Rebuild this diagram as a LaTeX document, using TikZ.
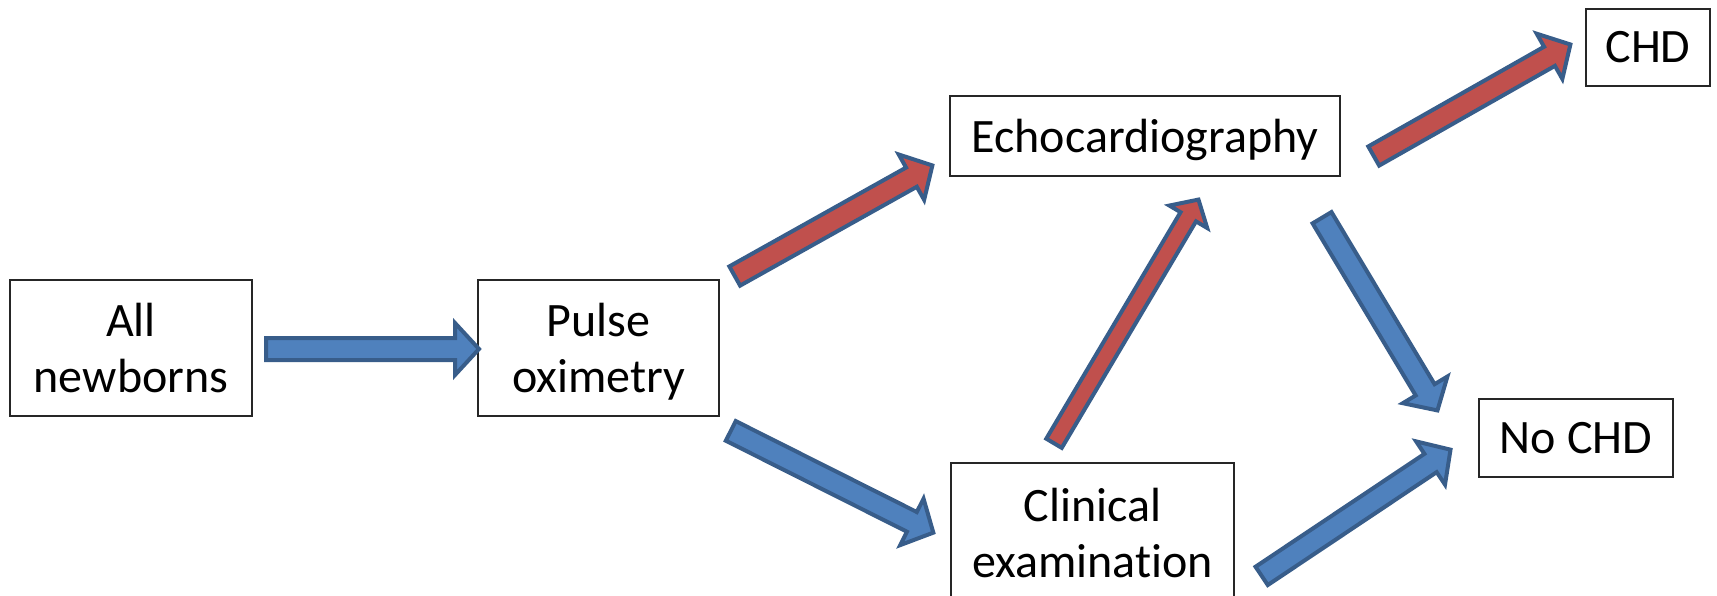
\documentclass[tikz,border=0pt]{standalone}
\usepackage{fontspec}
\setmainfont{Carlito}[Ligatures=NoCommon]
\usetikzlibrary{calc}
\definecolor{arrowred}{HTML}{C0504D}
\definecolor{arrowblue}{HTML}{4F81BD}
\definecolor{arrowedge}{HTML}{385D8A}

% Block arrow: #1 style, #2 tail, #3 tip, #4 shaft half-width,
% #5 head half-width, #6 head length
\newcommand\blockarrow[6]{%
  \coordinate (ba-s) at ($(#2)!2pt!(#3)$);
  \coordinate (ba-e) at ($(#3)!3pt!(#2)$);
  \coordinate (ba-h) at ($(ba-e)!#6!(ba-s)$);
  \draw[#1] ($(ba-s)!#4!90:(ba-e)$) -- ($(ba-h)!#4!90:(ba-e)$)
    -- ($(ba-h)!#5!90:(ba-e)$) -- (ba-e) -- ($(ba-h)!#5!-90:(ba-e)$)
    -- ($(ba-h)!#4!-90:(ba-e)$) -- ($(ba-s)!#4!-90:(ba-e)$) -- cycle;
}

\tikzset{
  box/.style={draw=black!85, line width=1.3pt, inner sep=0pt, align=center,
    font=\fontsize{48}{56}\selectfont},
  redarrow/.style={fill=arrowred, draw=arrowedge, line width=4pt, line join=miter},
  bluearrow/.style={fill=arrowblue, draw=arrowedge, line width=4pt, line join=miter},
}

\begin{document}
\begin{tikzpicture}[x=1pt,y=-1pt]
\useasboundingbox (0,0) rectangle (1717,596);

% boxes
\node[box, minimum width=242pt, minimum height=136pt] (an) at (131,348) {All\\newborns};
\node[box, minimum width=241pt, minimum height=136pt, text depth=0pt] (po) at (598.5,348) {Pulse\\oximetry};
\node[box, minimum width=390pt, minimum height=80pt, text depth=0pt] (echo) at (1145,136) {Echocardiography};
\node[box, minimum width=124pt, minimum height=77pt] (chd) at (1648,47.5) {CHD};
\node[box, minimum width=194pt, minimum height=78pt] (noc) at (1576,438) {No CHD};
\node[box, minimum width=283pt, minimum height=140pt] (clin) at (1092.5,533) {Clinical\\examination};

% arrow end points
\coordinate (an-po-s) at (264,349);   \coordinate (an-po-e) at (482,349);
\coordinate (po-echo-s) at (733,277); \coordinate (po-echo-e) at (935,164);
\coordinate (po-clin-s) at (729,430); \coordinate (po-clin-e) at (936,534);
\coordinate (clin-echo-s) at (1053,445); \coordinate (clin-echo-e) at (1200,197);
\coordinate (echo-chd-s) at (1372,157); \coordinate (echo-chd-e) at (1573,43);
\coordinate (echo-noc-s) at (1321,216); \coordinate (echo-noc-e) at (1439,413);
\coordinate (clin-noc-s) at (1260,577); \coordinate (clin-noc-e) at (1453,448);

% arrows
\blockarrow{bluearrow}{an-po-s}{an-po-e}{11pt}{26pt}{24pt}
\blockarrow{redarrow}{po-echo-s}{po-echo-e}{11pt}{26pt}{24pt}
\blockarrow{bluearrow}{po-clin-s}{po-clin-e}{11pt}{26pt}{24pt}
\blockarrow{redarrow}{clin-echo-s}{clin-echo-e}{9pt}{22pt}{20pt}
\blockarrow{redarrow}{echo-chd-s}{echo-chd-e}{11pt}{26pt}{24pt}
\blockarrow{bluearrow}{echo-noc-s}{echo-noc-e}{11pt}{26pt}{24pt}
\blockarrow{bluearrow}{clin-noc-s}{clin-noc-e}{11pt}{26pt}{24pt}
\end{tikzpicture}
\end{document}
